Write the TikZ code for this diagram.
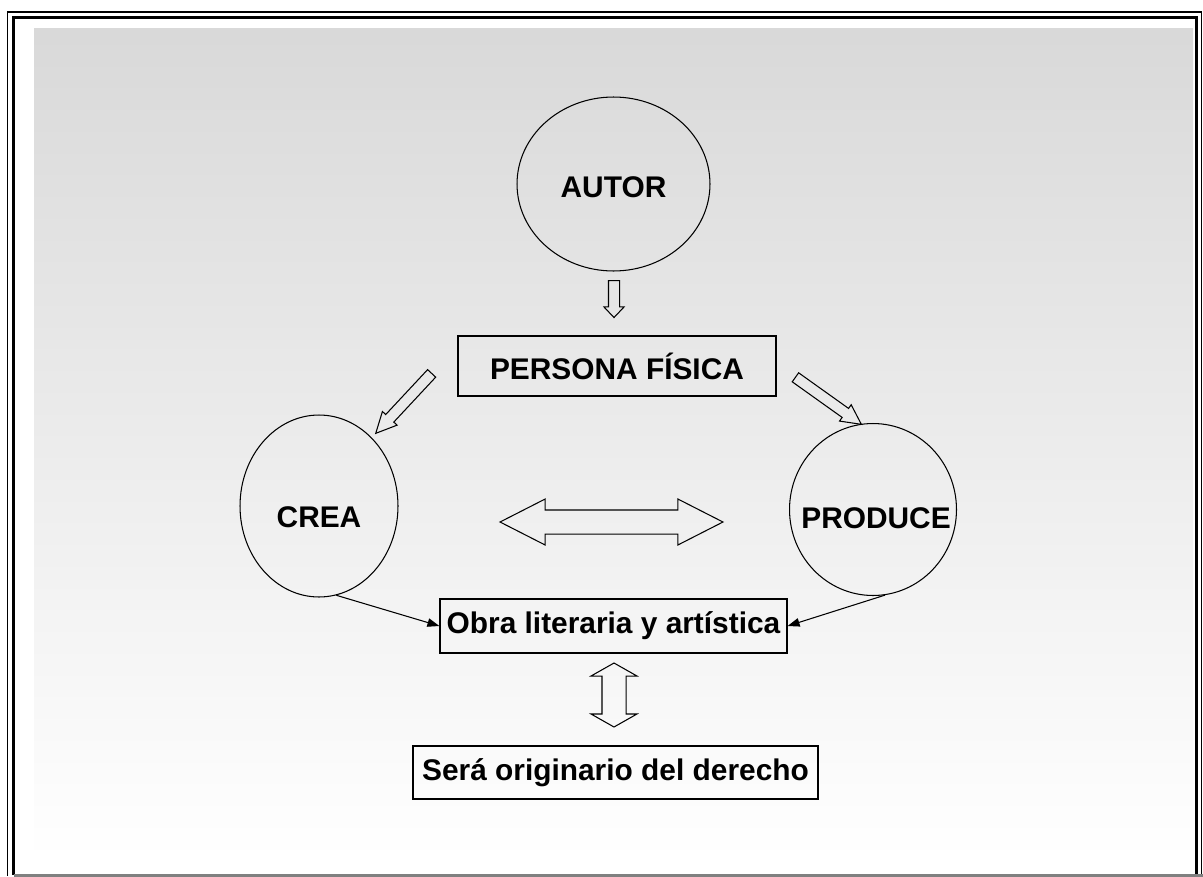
\documentclass[tikz,border=0pt]{standalone}
\usepackage{fontspec}
\setmainfont{Liberation Sans}
\usepackage{tikz}
\usetikzlibrary{arrows.meta,shapes.geometric,shapes.arrows,positioning,calc}

\tikzset{
    roundbox/.style={ellipse, draw, line width=0.6pt, inner sep=0pt},
    textbox/.style={rectangle, draw, line width=0.7pt, inner sep=0pt},
    fatarrow/.style={single arrow, draw, line width=0.6pt, inner xsep=0pt,
        inner ysep=0.1cm, single arrow head extend=0.09cm},
    bothways/.style={double arrow, draw, line width=0.6pt, inner xsep=0pt,
        inner ysep=0.23cm, double arrow head extend=0.22cm},
    thinarrow/.style={-{Triangle[length=0.24cm,width=0.17cm]}, line width=0.6pt}
}

\begin{document}
\begin{tikzpicture}[x=0.02cm, y=-0.02cm, font=\fontsize{17}{20}\selectfont\bfseries]
    \useasboundingbox (0,0) rectangle (1203,876);

    % Frame and shaded page
    \shade[top color=gray!30, bottom color=white] (34,28) rectangle (1193,860);
    \draw[line width=0.75pt] (7.5,876) -- (7.5,12) -- (1201.5,12) -- (1201.5,876);
    \draw[line width=1.7pt] (13.5,875) -- (13.5,17.5) -- (1196.5,17.5) -- (1196.5,875);
    \draw[gray, line width=1.5pt] (13.5,875.5) -- (1203,875.5);

    % Author and natural person
    \node[roundbox, minimum width=3.86cm, minimum height=3.48cm,
        label={[yshift=-0.06cm]center:AUTOR}] (autor) at (613.5,184) {};
    \node[textbox, minimum width=6.36cm, minimum height=1.2cm] (persona) at (617,366) {PERSONA FÍSICA};
    \node[fatarrow, minimum height=0.74cm, single arrow tip angle=87, rotate=-90, anchor=tail] (down) at (614,280) {};

    % Creates / produces
    \node[roundbox, minimum width=3.16cm, minimum height=3.64cm,
        label={[yshift=-0.22cm]center:CREA}] (crea) at (319,506) {};
    \node[roundbox, minimum width=3.34cm, minimum height=3.44cm,
        label={[xshift=0.06cm, yshift=-0.17cm]center:PRODUCE}] (produce) at (873,509.5) {};
    \node[fatarrow, minimum height=1.64cm, single arrow tip angle=52, rotate=-133, anchor=tail] (tocrea) at (432,373) {};
    \node[fatarrow, minimum height=1.62cm, single arrow tip angle=54, rotate=-35.5, anchor=tail] (toproduce) at (795,377) {};
    \node[bothways, minimum height=4.46cm, double arrow tip angle=54] (link) at (611.5,522) {};

    % The work
    \node[textbox, minimum width=6.94cm, minimum height=1.08cm] (obra) at (613.5,626) {Obra literaria y artística};
    \draw[thinarrow] (crea.-79) -- (obra.west);
    \draw[thinarrow] (produce.-82) -- (obra.east);

    % Original right holder
    \node[bothways, minimum height=1.28cm, double arrow tip angle=121, rotate=90] (link2) at (614,695) {};
    \node[textbox, minimum width=8.1cm, minimum height=1.06cm] (derecho) at (615.5,772.5) {Será originario del derecho};
\end{tikzpicture}
\end{document}
